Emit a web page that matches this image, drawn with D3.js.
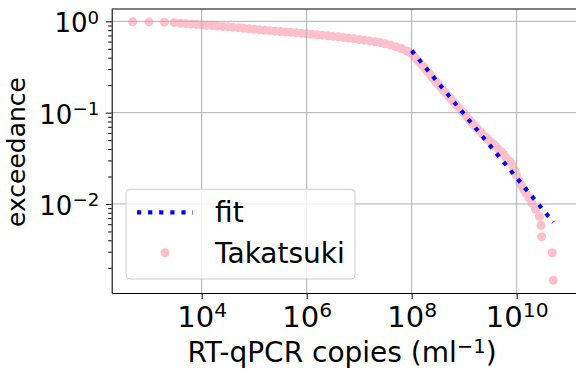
<!DOCTYPE html>
<html><head><meta charset="utf-8">
<script src="https://cdn.jsdelivr.net/npm/d3@7"></script>
<style>body{margin:0;background:#fff}text{font-family:"DejaVu Sans",sans-serif}</style>
</head><body><svg id="c" width="576" height="374"></svg>
<script>
// ---- data ----
const takatsukiCopies = [
  4.85e2, 9.9e2, 1.94e3, 3.01e3,
  3.98e3, 5.01e3, 6.31e3, 7.94e3, 1.00e4, 1.26e4, 1.58e4, 2.00e4, 2.51e4, 3.16e4, 3.98e4,
  5.01e4, 6.31e4, 7.94e4, 1.00e5, 1.26e5, 1.58e5, 2.00e5, 2.51e5, 3.16e5, 3.98e5, 5.01e5,
  6.31e5, 7.94e5, 1.00e6, 1.26e6, 1.58e6, 2.00e6, 2.51e6, 3.16e6, 3.98e6, 5.01e6, 6.31e6,
  7.94e6, 1.00e7, 1.26e7, 1.58e7, 2.00e7, 2.51e7, 3.16e7, 3.98e7, 5.01e7, 6.31e7, 7.94e7,
  8.91e7, 1.00e8, 1.12e8, 1.26e8, 1.41e8, 1.58e8, 1.78e8, 2.00e8, 2.24e8, 2.51e8, 2.82e8,
  3.16e8, 3.55e8, 3.98e8, 4.47e8, 5.01e8, 5.62e8, 6.31e8, 7.08e8, 7.94e8, 8.91e8, 1.00e9,
  1.12e9, 1.26e9, 1.41e9, 1.58e9, 1.78e9, 2.00e9, 2.24e9, 2.51e9, 2.82e9, 3.16e9, 3.55e9,
  3.98e9, 4.47e9, 5.01e9, 5.62e9, 6.31e9,
  7.45e9, 8.32e9, 9.08e9, 9.91e9, 1.13e10, 1.23e10, 1.35e10, 1.50e10, 1.71e10, 1.95e10,
  2.28e10, 2.72e10, 2.90e10, 2.99e10, 4.76e10, 4.98e10
];
const takatsukiExceedance = [
  0.99, 0.985, 0.978, 0.97,
  0.951, 0.943, 0.935, 0.926, 0.917, 0.907, 0.898, 0.888, 0.879, 0.870, 0.861,
  0.852, 0.841, 0.830, 0.819, 0.808, 0.799, 0.790, 0.781, 0.772, 0.765, 0.758,
  0.750, 0.742, 0.732, 0.722, 0.713, 0.704, 0.694, 0.685, 0.676, 0.666, 0.655,
  0.644, 0.634, 0.622, 0.610, 0.598, 0.585, 0.568, 0.551, 0.528, 0.504, 0.476,
  0.461, 0.441, 0.410, 0.381, 0.353, 0.329, 0.306, 0.283, 0.261, 0.241, 0.222,
  0.206, 0.190, 0.177, 0.164, 0.151, 0.140, 0.130, 0.121, 0.1126, 0.1046, 0.0975,
  0.0902, 0.0834, 0.0773, 0.0719, 0.0669, 0.0622, 0.0581, 0.0545, 0.0514, 0.0484, 0.0455,
  0.0429, 0.0401, 0.0375, 0.0348, 0.0321,
  0.0292, 0.0263, 0.0234, 0.0204, 0.0175, 0.0161, 0.0146, 0.0131, 0.0117, 0.0102,
  0.00876, 0.00730, 0.00584, 0.00438, 0.00292, 0.00146
];
const fitCopies = [1e8, 5.0e10];
const fitExceedance = [0.477, 0.0063];
const xTickValues = [1e4, 1e6, 1e8, 1e10];
const xTickExponents = ["4", "6", "8", "10"];
const yTickValues = [1, 0.1, 0.01];
const yTickExponents = ["0", "\u22121", "\u22122"];
const yMinorTicks = [2e-3,3e-3,4e-3,5e-3,6e-3,7e-3,8e-3,9e-3,2e-2,3e-2,4e-2,5e-2,6e-2,7e-2,8e-2,9e-2,0.2,0.3,0.4,0.5,0.6,0.7,0.8,0.9];
const legendLabels = ["fit", "Takatsuki"];
const xLabel = "RT-qPCR copies (ml";
const yLabel = "exceedance";

// ---- layout ----
const L = 111.7, R = 580, T = 9, B = 293;
const svg = d3.select("#c");
const x = d3.scaleLog().domain([Math.pow(10, 2.286), Math.pow(10, 11.206)]).range([L, R]);
const y = d3.scaleLog().domain([Math.pow(10, 0.135), Math.pow(10, -2.975)]).range([T, B]);

svg.append("defs").append("clipPath").attr("id", "clip")
  .append("rect").attr("x", L).attr("y", T).attr("width", R - L).attr("height", B - T);

const data = takatsukiCopies.map((c, i) => ({c, e: takatsukiExceedance[i]}));

// scatter (zorder 1)
svg.append("g").attr("clip-path", "url(#clip)")
  .selectAll("circle").data(data).join("circle")
  .attr("cx", d => x(d.c)).attr("cy", d => y(d.e)).attr("r", 4.5)
  .attr("fill", "pink");

// grid (zorder 1.5)
const grid = svg.append("g").attr("stroke", "#b0b0b0").attr("stroke-width", 1);
grid.selectAll(".gx").data(xTickValues).join("line")
  .attr("x1", d => x(d)).attr("x2", d => x(d)).attr("y1", T).attr("y2", B);
grid.selectAll(".gy").data(yTickValues).join("line")
  .attr("y1", d => y(d)).attr("y2", d => y(d)).attr("x1", L).attr("x2", R);

// fit line (zorder 2)
const fitData = fitCopies.map((c, i) => ({c, e: fitExceedance[i]}));
svg.append("path").datum(fitData).attr("clip-path", "url(#clip)")
  .attr("d", d3.line().x(d => x(d.c)).y(d => y(d.e)))
  .attr("fill", "none").attr("stroke", "blue").attr("stroke-width", 4.2)
  .attr("stroke-dasharray", "4.2 6.9").attr("stroke-linecap", "butt");

// axes
const xAxis = svg.append("g").attr("transform", `translate(0,${B})`)
  .call(d3.axisBottom(x).tickValues(xTickValues).tickSize(6).tickSizeOuter(0).tickFormat(() => ""));
const yAxis = svg.append("g").attr("transform", `translate(${L},0)`)
  .call(d3.axisLeft(y).tickValues(yTickValues).tickSize(6).tickSizeOuter(0).tickFormat(() => ""));
svg.append("g").attr("transform", `translate(${L},0)`)
  .call(d3.axisLeft(y).tickValues(yMinorTicks).tickSize(3.5).tickFormat(() => ""))
  .call(g => g.select(".domain").remove());
svg.selectAll(".domain").attr("stroke", "#000").attr("stroke-width", 1.1);
svg.selectAll(".tick line").attr("stroke", "#000").attr("stroke-width", 1);
svg.append("line").attr("x1", L).attr("x2", R).attr("y1", T).attr("y2", T)
  .attr("stroke", "#000").attr("stroke-width", 1.1);

xAxis.selectAll(".tick text").each(function(d, i) {
  const t = d3.select(this).attr("dy", null).attr("y", 33.7).attr("fill", "#000")
    .attr("font-size", 29).attr("text-anchor", "middle");
  t.append("tspan").text("10");
  t.append("tspan").attr("font-size", 29 * 0.7).attr("dy", -9.3).text(xTickExponents[i]);
});
yAxis.selectAll(".tick text").each(function(d, i) {
  const t = d3.select(this).attr("dy", null).attr("x", -12.5).attr("y", 10.4).attr("fill", "#000")
    .attr("font-size", 26).attr("text-anchor", "end");
  t.append("tspan").text("10");
  t.append("tspan").attr("font-size", 26 * 0.7).attr("dy", -8.4).text(yTickExponents[i]);
});

// axis labels
const xl = svg.append("text").attr("x", 342).attr("y", 361.7).attr("text-anchor", "middle")
  .attr("font-size", 28).attr("fill", "#000");
xl.append("tspan").text(xLabel);
xl.append("tspan").attr("font-size", 28 * 0.7).attr("dy", -9).text("\u22121");
xl.append("tspan").attr("dy", 9).text(")");
svg.append("text").attr("transform", "translate(25,152) rotate(-90)").attr("text-anchor", "middle")
  .attr("font-size", 25).attr("fill", "#000").text(yLabel);

// legend
const lg = svg.append("g");
lg.append("rect").attr("x", 126).attr("y", 189.3).attr("width", 229).attr("height", 89.7)
  .attr("rx", 4).attr("fill", "#fff").attr("fill-opacity", 0.8)
  .attr("stroke", "#cccccc").attr("stroke-width", 1);
lg.append("line").attr("x1", 137).attr("x2", 193).attr("y1", 212.3).attr("y2", 212.3)
  .attr("stroke", "blue").attr("stroke-width", 4.2).attr("stroke-dasharray", "4.2 6.9");
lg.append("circle").attr("cx", 165).attr("cy", 252.7).attr("r", 4.5).attr("fill", "pink");
lg.selectAll(".lt").data(legendLabels).join("text")
  .attr("x", 215).attr("y", (d, i) => 221.7 + i * 41).attr("font-size", 28).attr("fill", "#000")
  .text(d => d);
</script></body></html>
